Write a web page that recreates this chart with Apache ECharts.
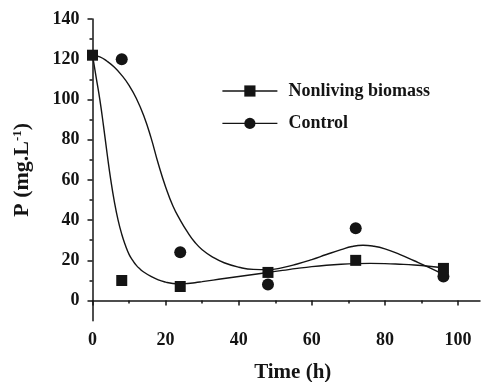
<!DOCTYPE html>
<html>
<head>
<meta charset="utf-8">
<script src="https://cdn.jsdelivr.net/npm/echarts@6/dist/echarts.min.js"></script>
<style>html,body{margin:0;padding:0;background:#fff}#c{width:483px;height:382px}</style>
</head>
<body>
<div id="c"></div>
<script>
// Measured points
const timeNonliving = [0, 8, 24, 48, 72, 96];
const nonliving = [122, 10, 7, 14, 20, 16];
const timeControl = [8, 24, 48, 72, 96];
const control = [120, 24, 8, 36, 12];

// Fitted curves
const fitTimeNonliving = [0,1,2,3,4,5,6,7,8,9,10,11,12,13,14,16,18,20,22,24,26,28,30,33,36,40,44,48,52,56,60,64,68,72,76,80,84,88,92,96];
const fitNonliving = [122,111,100,87,73,60,49,40,33,27.5,23,20,17.5,15.7,14.2,12,10.3,9.2,8.5,8.3,8.5,8.9,9.4,10.2,11,12,13,14,15,16,16.9,17.6,18.1,18.4,18.5,18.4,18.1,17.7,17.1,16.3];
const fitTimeControl = [0,2,4,6,8,10,12,14,16,18,20,22,24,26,28,30,33,36,40,44,48,52,56,60,64,68,71,74,77,80,84,88,92,96];
const fitControl = [122,121.2,119,116,112,107,100.5,92,81,68,56.5,47,40,34,29,25.3,21.5,18.8,16.6,15.5,15.4,16.4,18.2,20.4,22.9,25.3,26.9,27.5,27,25.7,23,19.8,16.5,13];

// Tick labels
const xMajor = [0, 20, 40, 60, 80, 100];
const xMinor = [10, 30, 50, 70, 90];
const yMajor = [0, 20, 40, 60, 80, 100, 120, 140];
const yMinor = [10, 30, 50, 70, 90, 110, 130];

const FONT = '"Liberation Serif", "Times New Roman", serif';
const INK = '#141414';

const pairs = (xs, ys) => xs.map((x, i) => [x, ys[i]]);

const axisLineStyle = { color: INK, width: 1.5 };
const chart = echarts.init(document.getElementById('c'), null, { renderer: 'canvas' });
chart.setOption({
  animation: false,
  backgroundColor: '#fff',
  grid: { left: 92.5, right: 3, top: 19, bottom: 61.3, containLabel: false, outerBoundsMode: 'none' },
  legend: {
    data: ['Nonliving biomass', 'Control'],
    orient: 'vertical',
    left: 216.7,
    top: 77,
    padding: 5,
    itemWidth: 55,
    itemHeight: 14,
    itemGap: 14.4,
    lineStyle: { color: INK, width: 1.4, opacity: 1, type: 'solid' },
    textStyle: { fontFamily: FONT, fontWeight: 'bold', fontSize: 18, color: INK, padding: [0, 0, 0, 6] }
  },
  xAxis: [
    {
      type: 'value', min: 0, max: 106,
      name: 'Time (h)', nameLocation: 'middle', nameGap: 41,
      nameTextStyle: { fontFamily: FONT, fontWeight: 'bold', fontSize: 21, color: INK, padding: [0, 0, 0, 13] },
      axisLine: { show: true, lineStyle: axisLineStyle },
      axisTick: { show: true, customValues: xMajor, length: 5, lineStyle: axisLineStyle },
      axisLabel: { customValues: xMajor, margin: 11, fontFamily: FONT, fontWeight: 'bold', fontSize: 18, color: INK },
      splitLine: { show: false }
    },
    {
      type: 'value', min: 0, max: 106, position: 'bottom',
      axisLine: { show: false },
      axisTick: { show: true, customValues: xMinor, length: 3, lineStyle: axisLineStyle },
      axisLabel: { show: false },
      splitLine: { show: false }
    }
  ],
  yAxis: [
    {
      type: 'value', min: -10, max: 140,
      name: '{a|P (mg.L}{s|-1}{a|)}', nameLocation: 'middle', nameGap: 59,
      nameTextStyle: {
        color: INK,
        rich: {
          a: { fontFamily: FONT, fontWeight: 'bold', fontSize: 22, color: INK },
          s: { fontFamily: FONT, fontWeight: 'bold', fontSize: 13, color: INK, verticalAlign: 'top' }
        }
      },
      axisLine: { show: true, lineStyle: axisLineStyle },
      axisTick: { show: true, customValues: yMajor, length: 5, lineStyle: axisLineStyle },
      axisLabel: { customValues: yMajor, margin: 13, fontFamily: FONT, fontWeight: 'bold', fontSize: 18, color: INK },
      splitLine: { show: false }
    },
    {
      type: 'value', min: -10, max: 140, position: 'left',
      axisLine: { show: false },
      axisTick: { show: true, customValues: yMinor, length: 3, lineStyle: axisLineStyle },
      axisLabel: { show: false },
      splitLine: { show: false }
    }
  ],
  series: [
    {
      name: 'fitNonliving', type: 'line', data: pairs(fitTimeNonliving, fitNonliving),
      smooth: 0.5, symbol: 'none', silent: true, clip: false,
      lineStyle: { color: INK, width: 1.4 }
    },
    {
      name: 'fitControl', type: 'line', data: pairs(fitTimeControl, fitControl),
      smooth: 0.5, symbol: 'none', silent: true, clip: false,
      lineStyle: { color: INK, width: 1.4 }
    },
    {
      name: 'Control', type: 'line', data: pairs(timeControl, control),
      symbol: 'circle', symbolSize: 12, clip: false,
      itemStyle: { color: INK }, lineStyle: { opacity: 0 }
    },
    {
      name: 'Nonliving biomass', type: 'line', data: pairs(timeNonliving, nonliving),
      symbol: 'rect', symbolSize: 11, clip: false,
      itemStyle: { color: INK }, lineStyle: { opacity: 0 }
    }
  ]
});
</script>
</body>
</html>
